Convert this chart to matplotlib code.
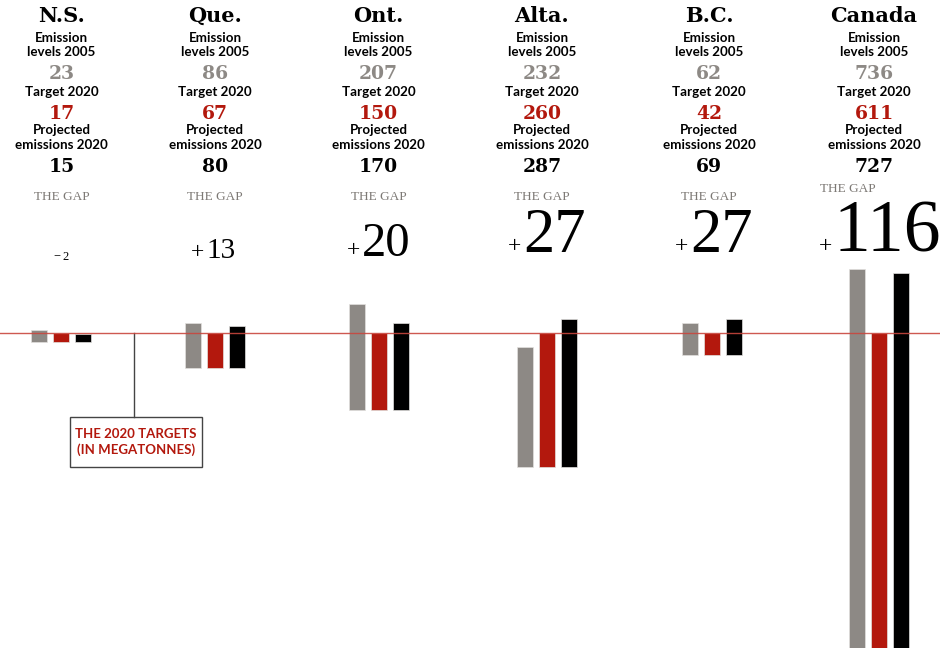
import matplotlib
matplotlib.use('Agg')
import matplotlib.pyplot as plt
from matplotlib.patches import Rectangle

# data (megatonnes)
regions = ['N.S.', 'Que.', 'Ont.', 'Alta.', 'B.C.', 'Canada']
levels_2005 = [23, 86, 207, 232, 62, 736]
target_2020 = [17, 67, 150, 260, 42, 611]
projected_2020 = [15, 80, 170, 287, 69, 727]

# layout, in pixels of the 940x648 image
W, H = 940, 648
bar_centers = [61, 214.5, 379, 547, 712, 879]
text_centers = [61.5, 215, 378.5, 542, 709, 874]
gap_left = [62, 206, 362, 523, 690, 834]
gap_base = [260, 258, 256, 252, 252, 252]
gap_size = [9, 21, 35, 45, 45, 53]
sign_size = [9, 17, 17, 17, 17, 17]
px_per_mt = 0.515
line_px = 333

GREY = '#8d8985'
RED = '#b3180d'
BLACK = '#000000'
SANS = ['Lato', 'DejaVu Sans']
SLAB = ['DejaVu Serif']
SERIF = ['Liberation Serif', 'DejaVu Serif']
LABEL_W = 'bold'

fig = plt.figure(figsize=(W / 100, H / 100), dpi=100)
ax = fig.add_axes([0, 0, 1, 1])
ax.set_xlim(0, W)
ax.set_ylim(-(H - line_px) / px_per_mt, line_px / px_per_mt)
ax.axis('off')


def fx(x):
    return x / W


def fy(y):
    return 1 - y / H


# bars hang from the target: red bar top sits on the line
for i in range(len(regions)):
    t = target_2020[i]
    vals = [levels_2005[i], t, projected_2020[i]]
    for off, v, c in zip([-22, 0, 22], vals, [GREY, RED, BLACK]):
        ax.bar(bar_centers[i] + off, v, width=16, bottom=-t, color=c,
               edgecolor='#e2e0de', linewidth=0.5, zorder=2)

ax.axhline(0, color='#c9473e', lw=1.0, alpha=0.9, zorder=3)

# header texts
for i, name in enumerate(regions):
    x = fx(text_centers[i])
    fig.text(x, fy(22), name, family=SLAB, weight='bold', fontsize=15,
             ha='center', va='baseline')
    fig.text(x, fy(41.7), 'Emission', family=SANS, weight=LABEL_W,
             fontsize=9.6, ha='center', va='baseline')
    fig.text(x, fy(55.7), 'levels 2005', family=SANS, weight=LABEL_W,
             fontsize=9.6, ha='center', va='baseline')
    fig.text(x, fy(79), str(levels_2005[i]), family=SLAB, weight='bold',
             fontsize=13.5, color=GREY, ha='center', va='baseline')
    fig.text(x, fy(96), 'Target 2020', family=SANS, weight=LABEL_W,
             fontsize=9.6, ha='center', va='baseline')
    fig.text(x, fy(119), str(target_2020[i]), family=SLAB, weight='bold',
             fontsize=13.5, color=RED, ha='center', va='baseline')
    fig.text(x, fy(134), 'Projected', family=SANS, weight=LABEL_W,
             fontsize=9.6, ha='center', va='baseline')
    fig.text(x, fy(149.3), 'emissions 2020', family=SANS, weight=LABEL_W,
             fontsize=9.6, ha='center', va='baseline')
    fig.text(x, fy(172), str(projected_2020[i]), family=SLAB, weight='bold',
             fontsize=13.5, color=BLACK, ha='center', va='baseline')

    if name == 'Canada':
        fig.text(fx(847.5), fy(192), 'THE GAP', family=SERIF, fontsize=9.5,
                 color='#7d7975', ha='center', va='baseline')
    else:
        fig.text(x, fy(200), 'THE GAP', family=SERIF, fontsize=9.5,
                 color='#7d7975', ha='center', va='baseline')

    gap = projected_2020[i] - target_2020[i]
    sign = '+' if gap > 0 else '\u2212'
    fig.text(fx(gap_left[i]), fy(gap_base[i]), str(abs(gap)), family=SERIF,
             fontsize=gap_size[i], ha='left', va='baseline')
    fig.text(fx(gap_left[i] - 2), fy(gap_base[i]), sign, family=SERIF,
             fontsize=sign_size[i], ha='right', va='baseline')

# callout for the target line
ax.plot([134.3, 134.3], [0, -(416.7 - line_px) / px_per_mt], color='#444444',
        lw=1.0, zorder=1)
fig.patches.append(Rectangle((fx(70.3), fy(467)), (202 - 70.3) / W, 50.3 / H,
                             transform=fig.transFigure, fill=False,
                             edgecolor='#444444', lw=1.0))
fig.text(fx(136), fy(442), 'THE 2020 TARGETS\n(IN MEGATONNES)', family=SANS,
         weight=LABEL_W, fontsize=9.5, color=RED, ha='center', va='center',
         linespacing=1.35)

fig.savefig('out.png', dpi=100)
